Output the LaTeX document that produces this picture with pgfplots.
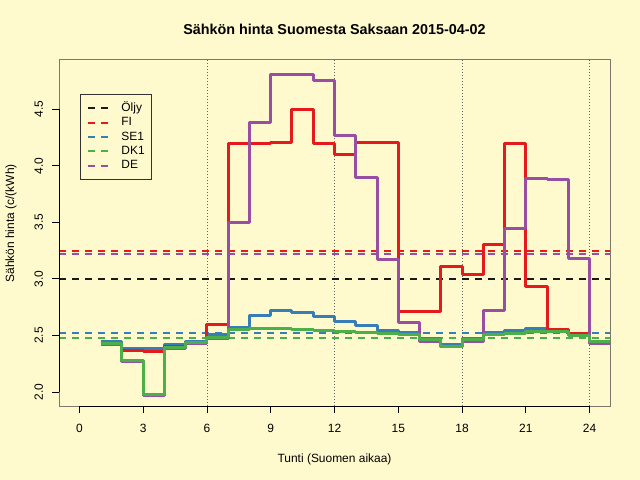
\documentclass[border=0pt]{standalone}
\usepackage{fontspec}
\setmainfont{Liberation Sans}
\usepackage{graphicx}
\usepackage{pgfplots}
\pgfplotsset{compat=1.18}
\definecolor{bg}{RGB}{255,250,205}
\definecolor{cFI}{RGB}{228,26,28}
\definecolor{cSE}{RGB}{55,126,184}
\definecolor{cDK}{RGB}{77,175,74}
\definecolor{cDE}{RGB}{152,78,163}
\definecolor{boxc}{RGB}{125,120,105}
\begin{document}
\begin{tikzpicture}[x=1bp,y=1bp]
\fill[bg] (0,0) rectangle (640,480);
\path[use as bounding box] (0,0) rectangle (640,480);
\begin{axis}[
  at={(59bp,74bp)}, anchor=south west,
  scale only axis, width=551bp, height=347bp,
  xmin=-0.96, xmax=24.96, ymin=1.876, ymax=4.944,
  clip mode=individual,
  axis line style={boxc, line width=0.8bp},
  tick align=outside, major tick length=7bp,
  tick style={black, line width=0.8bp},
  tick pos=left,
  xtick={0,3,...,24}, ytick={2,2.5,...,4.5},
  /pgf/number format/assume math mode=true,
  tick label style={font=\fontsize{12}{14}\selectfont},
  xticklabel style={anchor=base, yshift=-19.6bp},
  yticklabel={\rotatebox{90}{\pgfmathprintnumber[fixed,fixed zerofill,precision=1]{\tick}}},
  yticklabel style={anchor=east, inner xsep=0bp, xshift=-8.7bp},
  every axis title/.style={at={(axis description cs:0.5,1.0692)}, anchor=base, font=\fontsize{14.4}{16}\selectfont\bfseries},
  title={Sähkön hinta Suomesta Saksaan 2015-04-02},
  every axis x label/.style={at={(axis description cs:0.5,-0.1622)}, anchor=base, font=\fontsize{12}{14}\selectfont},
  xlabel={Tunti (Suomen aikaa)},
  every axis y label/.style={at={(axis description cs:-0.0871,0.526)}, rotate=90, anchor=center, font=\fontsize{12}{14}\selectfont},
  ylabel={Sähkön hinta (c/(kWh)},
  legend image code/.code={\draw[#1] (0bp,0bp) -- (20bp,0bp);},
  legend cell align=left,
  legend style={at={(axis description cs:0.0381,0.8983)}, anchor=north west,
    draw=black!80, fill=bg, line width=0.8bp, font=\fontsize{12}{14}\selectfont,
    inner xsep=7bp, inner ysep=8bp, row sep=3.4bp, column sep=12bp,
    nodes={inner sep=0bp, text height=8.6bp, text depth=2.4bp}},
]
% vertical dotted guide lines
\addplot[black!60, line width=0.6bp, dash pattern=on 1bp off 2bp, forget plot] coordinates {(6,1.876) (6,4.944)};
\addplot[black!60, line width=0.6bp, dash pattern=on 1bp off 2bp, forget plot] coordinates {(12,1.876) (12,4.944)};
\addplot[black!60, line width=0.6bp, dash pattern=on 1bp off 2bp, forget plot] coordinates {(18,1.876) (18,4.944)};
\addplot[black!60, line width=0.6bp, dash pattern=on 1bp off 2bp, forget plot] coordinates {(24,1.876) (24,4.944)};
% average lines
\addplot[black!90, line width=2bp, dash pattern=on 7bp off 6bp] coordinates {(-0.96,3.0) (24.96,3.0)};
\addlegendentry{Öljy}
\addplot[cFI, line width=2bp, dash pattern=on 7bp off 6bp] coordinates {(-0.96,3.247) (24.96,3.247)};
\addlegendentry{FI}
\addplot[cSE, line width=2bp, dash pattern=on 7bp off 6bp] coordinates {(-0.96,2.518) (24.96,2.518)};
\addlegendentry{SE1}
\addplot[cDK, line width=2bp, dash pattern=on 7bp off 6bp] coordinates {(-0.96,2.474) (24.96,2.474)};
\addlegendentry{DK1}
\addplot[cDE, line width=2bp, dash pattern=on 7bp off 6bp] coordinates {(-0.96,3.22) (24.96,3.22)};
\addlegendentry{DE}
% SE1
\addplot[cSE, line width=3bp, const plot mark left, line join=round, forget plot] coordinates {
(1,2.45) (2,2.385) (3,2.38) (4,2.42) (5,2.445) (6,2.51) (7,2.567) (8,2.673) (9,2.724) (10,2.706) (11,2.67) (12,2.62)
(13,2.59) (14,2.547) (15,2.527) (16,2.477) (17,2.42) (18,2.477) (19,2.53) (20,2.54) (21,2.56) (22,2.547) (23,2.52) (24,2.45) (25,2.45)};
% FI
\addplot[cFI, line width=3bp, const plot mark left, line join=round, forget plot] coordinates {
(1,2.43) (2,2.37) (3,2.36) (4,2.40) (5,2.435) (6,2.60) (7,4.20) (8,4.20) (9,4.21) (10,4.50) (11,4.20) (12,4.10)
(13,4.21) (14,4.21) (15,2.715) (16,2.715) (17,3.106) (18,3.04) (19,3.30) (20,4.20) (21,2.93) (22,2.55) (23,2.52) (24,2.45) (25,2.45)};
% DE
\addplot[cDE, line width=3bp, const plot mark left, line join=round, forget plot] coordinates {
(1,2.42) (2,2.27) (3,1.97) (4,2.38) (5,2.43) (6,2.475) (7,3.50) (8,4.383) (9,4.81) (10,4.807) (11,4.75) (12,4.27)
(13,3.90) (14,3.174) (15,2.615) (16,2.45) (17,2.40) (18,2.45) (19,2.724) (20,3.445) (21,3.886) (22,3.88) (23,3.183) (24,2.43) (25,2.43)};
% DK1
\addplot[cDK, line width=3bp, const plot mark left, line join=round, forget plot] coordinates {
(1,2.426) (2,2.28) (3,1.98) (4,2.39) (5,2.435) (6,2.48) (7,2.556) (8,2.56) (9,2.56) (10,2.553) (11,2.54) (12,2.535)
(13,2.53) (14,2.52) (15,2.51) (16,2.465) (17,2.405) (18,2.465) (19,2.51) (20,2.52) (21,2.535) (22,2.535) (23,2.497) (24,2.445) (25,2.445)};
% axis lines spanning the ticks
\draw[black, line width=0.8bp] (axis cs:0,1.876) -- (axis cs:24,1.876);
\draw[black, line width=0.8bp] (axis cs:-0.96,2) -- (axis cs:-0.96,4.5);
\end{axis}
\end{tikzpicture}
\end{document}
